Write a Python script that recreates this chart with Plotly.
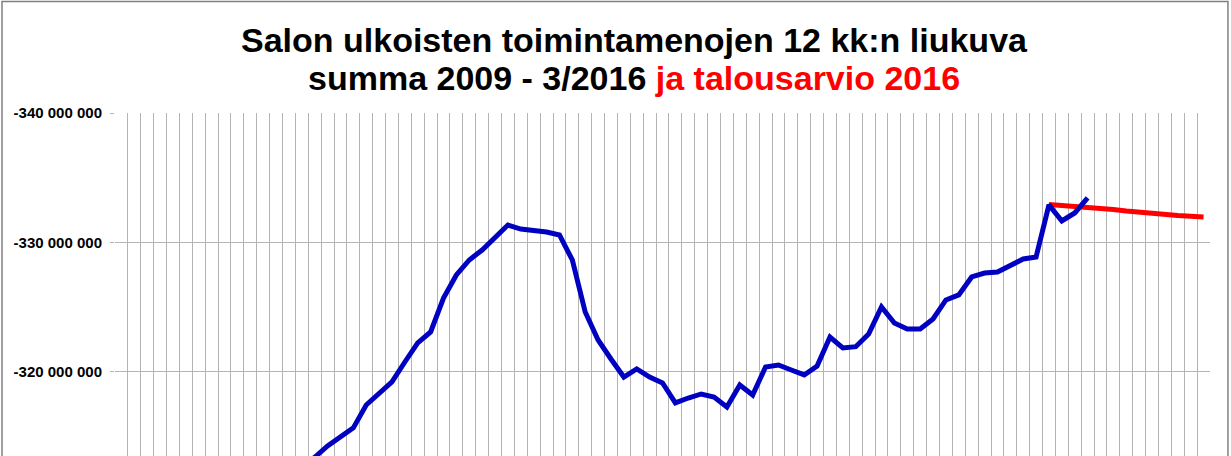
import plotly.graph_objects as go

# categories: one per month, 12/2009 ... 12/2016
months = ["12/2009"] + [f"{m}/{y}" for y in range(2010, 2017) for m in range(1, 13)]

# 12 kk:n liukuva summa, 2/2011 ... 3/2016 (earlier months fall below the visible area)
actual_months = months[14:76]
actual_values = [
    -312700000, -313410000, -314290000, -314980000, -315680000, -317450000,
    -318300000, -319230000, -320770000, -322240000, -323090000, -325710000,
    -327490000, -328650000, -329420000, -330420000, -331350000, -331040000,
    -330970000, -330810000, -330580000, -328650000, -324630000, -322470000,
    -321000000, -319610000, -320230000, -319610000, -319150000, -317610000,
    -317990000, -318300000, -318070000, -317300000, -319000000, -318220000,
    -320390000, -320540000, -320150000, -319770000, -320460000, -322700000,
    -321850000, -321950000, -322930000, -325020000, -323780000, -323320000,
    -323320000, -324090000, -325560000, -325950000, -327340000, -327640000,
    -327720000, -328260000, -328730000, -328880000, -332900000, -331660000,
    -332280000, -333440000,
]

# talousarvio 2016, 12/2015 ... 12/2016
budget_months = months[72:85]
budget_values = [
    -332930000, -332860000, -332780000, -332740000, -332660000, -332550000,
    -332430000, -332320000, -332220000, -332150000, -332080000, -332020000,
    -331970000,
]

y_ticks = [-340000000, -330000000, -320000000]
y_tick_labels = ["-340 000 000", "-330 000 000", "-320 000 000"]

title_line1 = "Salon ulkoisten toimintamenojen 12 kk:n liukuva"
title_line2 = "summa 2009 - 3/2016 <span style='color:#ff0000'>ja talousarvio 2016</span>"

FONT = "Liberation Sans, Arial, sans-serif"

fig = go.Figure()

fig.add_trace(
    go.Scatter(
        x=budget_months,
        y=budget_values,
        mode="lines",
        name="Talousarvio 2016",
        line=dict(color="#ff0000", width=5),
    )
)

fig.add_trace(
    go.Scatter(
        x=actual_months,
        y=actual_values,
        mode="lines",
        name="12 kk:n liukuva summa",
        line=dict(color="#0000c0", width=5),
    )
)

fig.update_layout(
    width=1231,
    height=456,
    margin=dict(l=115, r=21, t=113, b=0),
    paper_bgcolor="white",
    plot_bgcolor="white",
    showlegend=False,
    font=dict(family=FONT, color="black"),
    xaxis=dict(
        type="category",
        categoryorder="array",
        categoryarray=months,
        range=[-0.5, len(months) - 0.5],
        tickson="boundaries",
        dtick=1,
        showticklabels=False,
        ticks="",
        showgrid=True,
        gridcolor="#b4b4b4",
        gridwidth=1,
        zeroline=False,
        showline=False,
        automargin=False,
    ),
    yaxis=dict(
        range=[-313510000, -340000000],
        tickvals=y_ticks,
        ticktext=y_tick_labels,
        ticks="outside",
        ticklen=4,
        tickcolor="#b4b4b4",
        ticklabelstandoff=5,
        tickfont=dict(size=15, weight="bold"),
        showgrid=True,
        gridcolor="#b4b4b4",
        gridwidth=1,
        zeroline=False,
        showline=False,
        automargin=False,
    ),
)

# two-line title, placed above the plot area
for text, ypos in [(title_line1, 1.2128), (title_line2, 1.102)]:
    fig.add_annotation(
        text=text,
        xref="paper", yref="paper",
        x=0.474, y=ypos,
        xanchor="center", yanchor="middle",
        showarrow=False,
        font=dict(size=34, family=FONT, weight="bold", color="black"),
    )

# chart frame
fig.add_shape(
    type="rect",
    xref="paper",
    yref="paper",
    x0=-0.1032,
    x1=1.0164,
    y0=-0.1,
    y1=1.325,
    line=dict(color="#808080", width=1.5),
    layer="below",
)

# drop the browser's default 8px body margin so the figure sits at the page corner
fig.write_html(
    "out.html",
    config={"displayModeBar": False},
    post_script="document.body.style.margin = '0';",
)
